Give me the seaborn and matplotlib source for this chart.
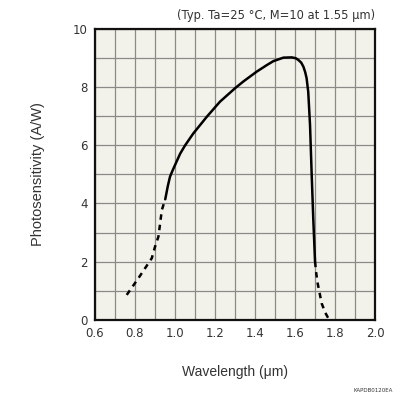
import matplotlib
matplotlib.use("Agg")
import matplotlib.pyplot as plt
import seaborn as sns
import pandas as pd

# Data
dash_left_x = [0.760, 0.818, 0.885, 0.901, 0.918, 0.935, 0.952]
dash_left_y = [0.86, 1.43, 2.12, 2.51, 2.86, 3.77, 4.14]

solid_x = [0.952, 0.965, 0.976, 0.990, 1.005, 1.026, 1.050, 1.092, 1.159, 1.225, 1.300,
           1.341, 1.408, 1.455, 1.491, 1.541, 1.583, 1.603, 1.616, 1.630, 1.641, 1.650,
           1.657, 1.665, 1.674, 1.682, 1.690, 1.699]
solid_y = [4.14, 4.60, 4.92, 5.15, 5.38, 5.70, 5.98, 6.40, 6.97, 7.49, 7.95,
           8.18, 8.52, 8.73, 8.88, 9.00, 9.01, 8.98, 8.92, 8.83, 8.69, 8.50,
           8.29, 7.83, 6.69, 5.04, 3.50, 2.00]

dash_right_x = [1.699, 1.705, 1.712, 1.732, 1.750, 1.765]
dash_right_y = [2.00, 1.60, 1.26, 0.57, 0.25, 0.06]

x_ticks = [0.6, 0.8, 1.0, 1.2, 1.4, 1.6, 1.8, 2.0]
y_ticks = [0, 2, 4, 6, 8, 10]

sns.set_theme(style="white")
plt.rcParams['font.family'] = ['DejaVu Sans']

fig = plt.figure(figsize=(3.96, 3.96), dpi=100)
ax = fig.add_axes([0.239, 0.192, 0.709, 0.736])
ax.set_facecolor("#F3F2EA")

df_l = pd.DataFrame({"x": dash_left_x, "y": dash_left_y})
df_s = pd.DataFrame({"x": solid_x, "y": solid_y})
df_r = pd.DataFrame({"x": dash_right_x, "y": dash_right_y})

line_kw = dict(color="black", lw=1.8, sort=False, estimator=None)
sns.lineplot(data=df_s, x="x", y="y", ax=ax, solid_joinstyle="round", **line_kw)
sns.lineplot(data=df_l, x="x", y="y", ax=ax, linestyle=(0, (2.2, 2.0)), **line_kw)
sns.lineplot(data=df_r, x="x", y="y", ax=ax, linestyle=(0, (2.2, 2.0)), **line_kw)

ax.set_xlim(0.6, 2.0)
ax.set_ylim(0, 10)
ax.set_xticks(x_ticks)
ax.set_xticklabels([f"{t:.1f}" for t in x_ticks])
ax.set_yticks(y_ticks)
ax.set_xticks([0.6 + 0.1 * i for i in range(15)], minor=True)
ax.set_yticks(list(range(11)), minor=True)
ax.grid(which="both", color="#8a8a8a", lw=0.9)
ax.set_axisbelow(True)
ax.tick_params(which="both", length=0, labelsize=8.5, colors="#333333", pad=5)

for s in ax.spines.values():
    s.set_color("#111111")
    s.set_linewidth(1.6)

ax.set_xlabel("Wavelength (μm)", fontsize=10, color="#333333", labelpad=18,
              family=["Liberation Sans", "DejaVu Sans"])
ax.set_ylabel("Photosensitivity (A/W)", fontsize=10.5, color="#333333", labelpad=20,
              family=["Liberation Sans", "DejaVu Sans"])
fig.text(0.948, 0.945, "(Typ. Ta=25 °C, M=10 at 1.55 μm)", ha="right", va="bottom",
         fontsize=8.3, color="#333333")
fig.text(0.992, 0.008, "KAPDB0120EA", ha="right", va="bottom", fontsize=4, color="#333333")

fig.savefig("out.png", dpi=100)
